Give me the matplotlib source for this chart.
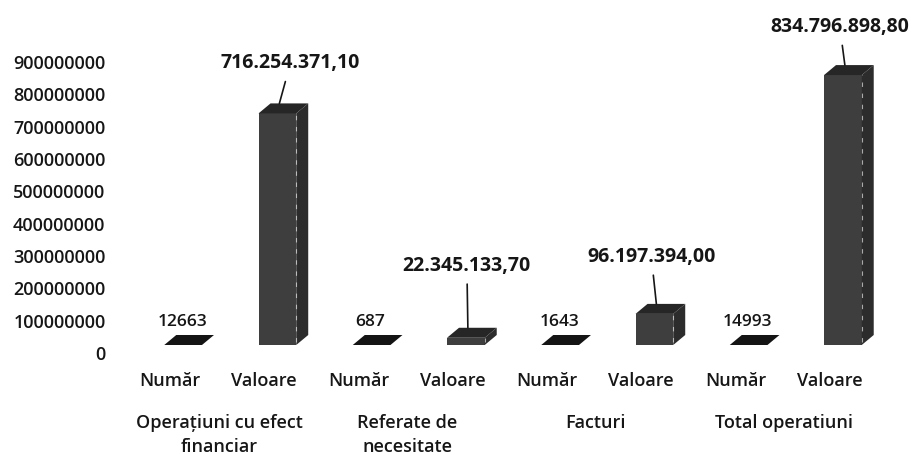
import numpy as np
import matplotlib
matplotlib.use("Agg")
import matplotlib.pyplot as plt
from matplotlib.patches import Polygon
import matplotlib.transforms as mtransforms

plt.rcParams['font.family'] = ['Open Sans', 'DejaVu Sans']

# ------------------------------------------------------------
# Data
# ------------------------------------------------------------
groups = ['Operațiuni cu efect\nfinanciar', 'Referate de\nnecesitate',
          'Facturi', 'Total operatiuni']
sub_labels = ['Număr', 'Valoare']
numar = [12663, 687, 1643, 14993]
valoare = [716254371.10, 22345133.70, 96197394.00, 834796898.80]
valoare_txt = ['716.254.371,10', '22.345.133,70', '96.197.394,00', '834.796.898,80']
yticks = np.arange(0, 900000001, 100000000)

# label offsets (pixels) for the value call-outs
val_offsets = [(11, 40), (-1, 62), (-5, 47), (-5, 38)]

# ------------------------------------------------------------
# Figure
# ------------------------------------------------------------
W, H = 912, 455
fig = plt.figure(figsize=(W / 100, H / 100), dpi=100)
ax_l, ax_b, ax_w, ax_h = 136 / W, (H - 353) / H, 754 / W, 291 / H
ax = fig.add_axes([ax_l, ax_b, ax_w, ax_h])
ax.set_xlim(-0.5, 7.5)
ax.set_ylim(0, 900000000)
for s in ax.spines.values():
    s.set_visible(False)

txt_col = '#161616'
ax.set_yticks(yticks, [str(int(t)) for t in yticks])
ax.tick_params(axis='y', length=0, pad=22, labelsize=13, labelcolor=txt_col)

x = np.arange(8)
values = [v for pair in zip(numar, valoare) for v in pair]
ax.set_xticks(x - 0.14, sub_labels * 4)
ax.tick_params(axis='x', length=0, pad=14, labelsize=13, labelcolor=txt_col)
for lab in ax.get_xticklabels() + ax.get_yticklabels():
    lab.set_fontweight('semibold')

# bars are drawn slightly above the axis zero, like the 3D floor
bar_tr = mtransforms.offset_copy(ax.transData, fig, x=0, y=8, units='dots')

# pseudo 3D depth in data units
px_x = ax_w * W / 8.0
px_y = ax_h * H / 900000000
dx = 12 / px_x
dy = 10 / px_y
w = 0.40

for i, v in enumerate(values):
    x0, x1 = i - w / 2, i + w / 2
    flat = v < 1e6
    front = Polygon([(x0, 0), (x1, 0), (x1, v), (x0, v)],
                    closed=True, transform=bar_tr, fc='#3e3e3e', ec='none')
    side = Polygon([(x1, 0), (x1 + dx, dy), (x1 + dx, v + dy), (x1, v)],
                   closed=True, transform=bar_tr, fc='#2c2c2c', ec='none')
    top = Polygon([(x0, v), (x1, v), (x1 + dx, v + dy), (x0 + dx, v + dy)],
                  closed=True, transform=bar_tr,
                  fc='#141414' if flat else '#262626', ec='none')
    ax.add_patch(front)
    ax.add_patch(side)
    ax.add_patch(top)
    if not flat:
        ax.plot([x1, x1], [dy * 0.3, v], color='white', lw=0.8,
                ls=(0, (4, 6)), alpha=0.6, transform=bar_tr)

# count labels
for k, n in enumerate(numar):
    ax.annotate(str(n), xy=(2 * k, 0), xycoords=bar_tr,
                xytext=(-1, 23), textcoords='offset pixels',
                ha='center', va='center', fontsize=12.5,
                fontweight='semibold', color=txt_col)

# value labels with leader lines
anchor_tr = mtransforms.offset_copy(ax.transData, fig, x=2, y=8 + 10, units='dots')
for k, (v, t) in enumerate(zip(valoare, valoare_txt)):
    ax.annotate(t, xy=(2 * k + 1, v), xycoords=anchor_tr,
                xytext=val_offsets[k], textcoords='offset pixels',
                ha='center', va='center', fontsize=14,
                fontweight='bold', color=txt_col,
                arrowprops=dict(arrowstyle='-', color=txt_col, lw=1.2,
                                shrinkA=4, shrinkB=0))

# group labels
for k, g in enumerate(groups):
    ax.annotate(g, xy=(2 * k + 0.5 - 0.12, 0),
                xycoords=('data', 'axes fraction'),
                xytext=(0, -61), textcoords='offset pixels',
                ha='center', va='top', fontsize=13, linespacing=1.45,
                fontweight='semibold', color=txt_col)

fig.savefig('out.png', dpi=100)
